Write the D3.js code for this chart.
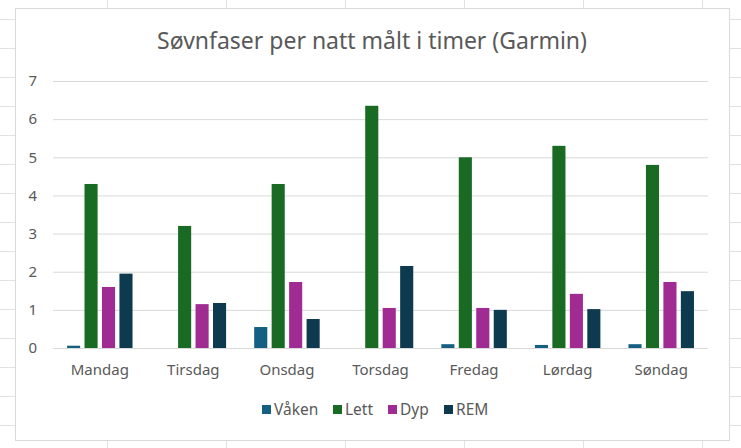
<!DOCTYPE html>
<html>
<head>
<meta charset="utf-8">
<script src="https://cdn.jsdelivr.net/npm/d3@7"></script>
<style>
  body { margin: 0; background: #fff; }
  text { font-family: "Noto Sans", "Open Sans", sans-serif; fill: #595959; }
</style>
</head>
<body>
<div id="vis"></div>
<script>
// categories and series
var days = ["Mandag", "Tirsdag", "Onsdag", "Torsdag", "Fredag", "Lørdag", "Søndag"];
var series = ["Våken", "Lett", "Dyp", "REM"];
var vaaken = [0.06, 0, 0.55, 0, 0.1, 0.08, 0.1];
var lett   = [4.3, 3.2, 4.3, 6.35, 5.0, 5.3, 4.8];
var dyp    = [1.6, 1.15, 1.73, 1.05, 1.05, 1.42, 1.73];
var rem    = [1.95, 1.18, 0.76, 2.15, 1.0, 1.02, 1.49];
var yTicks = [0, 1, 2, 3, 4, 5, 6, 7];
var colors = ["#156082", "#196B24", "#A02B93", "#0E3A50"];

var values = [vaaken, lett, dyp, rem];
var data = days.map((d, i) => ({day: d, vals: series.map((s, j) => ({s: s, v: values[j][i]}))}));

var w = 741, h = 448;

var svg = d3.select("#vis").append("svg")
            .attr("width", w)
            .attr("height", h);

// spreadsheet grid behind the chart
var bg = svg.append("g").attr("stroke", "#e1e1e1").attr("stroke-width", 1);
for (var y = 19; y < h; y += 29) {
  bg.append("line").attr("x1", 0).attr("x2", w).attr("y1", y + 0.5).attr("y2", y + 0.5);
}
for (var x = 107; x < w; x += 119) {
  bg.append("line").attr("y1", 0).attr("y2", h).attr("x1", x + 0.5).attr("x2", x + 0.5);
}

// chart area
svg.append("rect")
   .attr("x", 15.5).attr("y", 8.5)
   .attr("width", 714).attr("height", 432)
   .attr("fill", "#fff")
   .attr("stroke", "#d9d9d9");

svg.append("text")
   .attr("x", 372).attr("y", 49)
   .attr("text-anchor", "middle")
   .style("font-size", "23px")
   .text("Søvnfaser per natt målt i timer (Garmin)");

var xScale = d3.scaleBand()
               .domain(days)
               .range([53, 708])
               .paddingInner(0.3)
               .paddingOuter(0.15);
var x2Scale = d3.scaleBand()
                .domain(series)
                .range([0, xScale.bandwidth()])
                .paddingInner(0.25);
var yScale = d3.scaleLinear()
               .domain([0, 7])
               .range([348, 81]);
var colScale = d3.scaleOrdinal().domain(series).range(colors);

// gridlines
var yAxis = svg.append("g")
               .call(d3.axisLeft(yScale).tickValues(yTicks).tickFormat(d3.format("d")).tickSize(-655).tickPadding(16))
               .attr("transform", "translate(53,0)");
yAxis.select(".domain").remove();
yAxis.selectAll("line").attr("stroke", "#d9d9d9");
yAxis.selectAll("text").style("font-size", "15px").style("font-family", null).attr("fill", null);

var groups = svg.selectAll(".day")
                .data(data)
                .enter().append("g")
                .attr("transform", d => `translate(${xScale(d.day)},0)`);
groups.selectAll("rect")
      .data(d => d.vals)
      .enter().append("rect")
      .attr("x", d => x2Scale(d.s))
      .attr("width", x2Scale.bandwidth())
      .attr("y", d => yScale(d.v))
      .attr("height", d => yScale(0) - yScale(d.v))
      .attr("fill", d => colScale(d.s));

var xAxis = svg.append("g")
               .call(d3.axisBottom(xScale).tickSize(0).tickPadding(16))
               .attr("transform", `translate(0,${yScale(0)})`);
xAxis.select(".domain").remove();
xAxis.selectAll("text").style("font-size", "15px").style("font-family", null).attr("fill", null);

// legend
var legX = [262, 333, 388, 444];
var leg = svg.selectAll(".leg")
             .data(series)
             .enter().append("g")
             .attr("transform", (d, i) => `translate(${legX[i]},405)`);
leg.append("rect").attr("width", 9).attr("height", 9).attr("fill", d => colScale(d));
leg.append("text").attr("x", 12).attr("y", 10).style("font-size", "15.5px").text(d => d);
</script>
</body>
</html>
